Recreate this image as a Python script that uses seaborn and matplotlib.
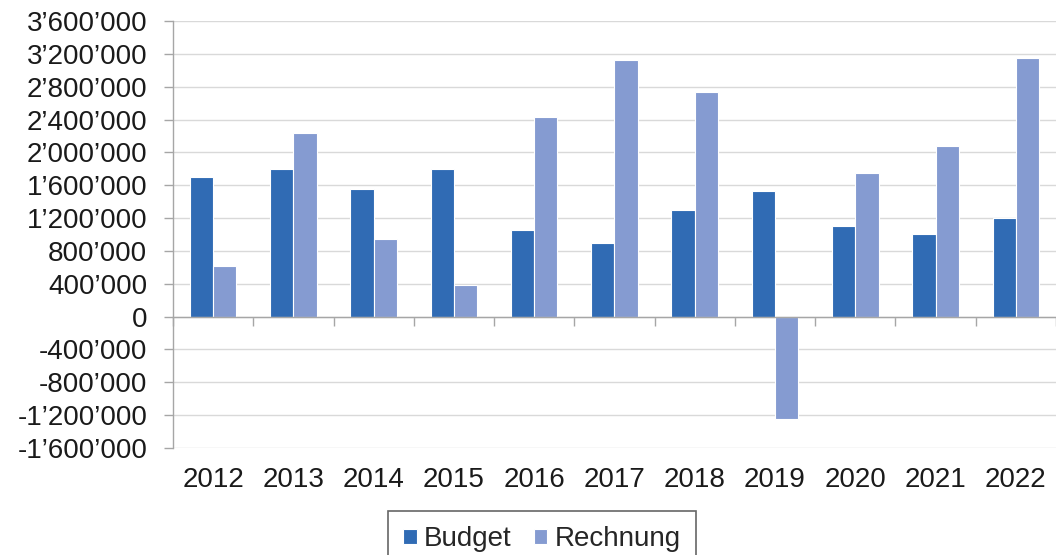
import pandas as pd
import numpy as np
import matplotlib
matplotlib.use("Agg")
import matplotlib.pyplot as plt
import seaborn as sns
from matplotlib.ticker import FuncFormatter, FixedLocator

# Data
years = ["2012", "2013", "2014", "2015", "2016", "2017", "2018", "2019", "2020", "2021", "2022"]
budget = [1700000, 1800000, 1550000, 1800000, 1050000, 900000, 1300000, 1525000, 1100000, 1000000, 1200000]
rechnung = [610000, 2235000, 940000, 385000, 2430000, 3130000, 2735000, -1250000, 1755000, 2080000, 3145000]
series = ["Budget", "Rechnung"]
colors = ["#306BB4", "#859BD1"]

df = pd.DataFrame({
    "Jahr": years * 2,
    "Wert": budget + rechnung,
    "Art": [series[0]] * len(years) + [series[1]] * len(years),
})

sns.set_style("white")
plt.rcParams["font.family"] = ["Liberation Sans", "DejaVu Sans"]

fig = plt.figure(figsize=(10.56, 5.55), dpi=100)
ax = fig.add_axes([0.1638, 0.193, 0.8362, 0.769])

sns.barplot(data=df, x="Jahr", y="Wert", hue="Art", palette=colors, width=0.58,
            saturation=1, edgecolor="white", linewidth=0.8, ax=ax, legend=True, zorder=3)

# y axis
ax.set_ylim(-1600000, 3600000)
ax.set_yticks(np.arange(-1600000, 3600001, 400000))
ax.yaxis.set_major_formatter(FuncFormatter(lambda v, p: f"{int(v):,}".replace(",", "\u2019")))
ax.yaxis.grid(True, color="#D9D9D9", linewidth=1.0, zorder=0)
ax.set_axisbelow(True)
ax.tick_params(axis="y", which="major", length=6.5, width=1, color="#A6A6A6",
               direction="out", pad=12, labelsize=20, labelcolor="#1a1a1a", left=True)

# x axis: spine at zero, labels at the bottom
ax.set_xlim(-0.5, len(years) - 0.5)
ax.spines["bottom"].set_position(("data", 0))
ax.xaxis.set_minor_locator(FixedLocator(np.arange(-0.5, len(years), 1.0)))
ax.tick_params(axis="x", which="minor", length=6.5, width=1, color="#A6A6A6", direction="out", bottom=True)
ax.tick_params(axis="x", which="major", length=0, pad=108, labelsize=20, labelcolor="#1a1a1a")

for s in ["top", "right"]:
    ax.spines[s].set_visible(False)
for s in ["left", "bottom"]:
    ax.spines[s].set_color("#A6A6A6")
    ax.spines[s].set_linewidth(1.0)
    ax.spines[s].set_zorder(4)

ax.set_xlabel("")
ax.set_ylabel("")

handles, labels = ax.get_legend_handles_labels()
ax.get_legend().remove()
leg = fig.legend(handles, labels, loc="upper left", bbox_to_anchor=(0.367, 0.079),
                 ncol=2, frameon=True, fancybox=False, fontsize=20,
                 handlelength=0.5, handleheight=0.5, handletextpad=0.25,
                 columnspacing=0.8, borderpad=0.55, borderaxespad=0)
leg.get_frame().set_edgecolor("#404040")
leg.get_frame().set_linewidth(1.2)

fig.savefig("out.png", dpi=100)
